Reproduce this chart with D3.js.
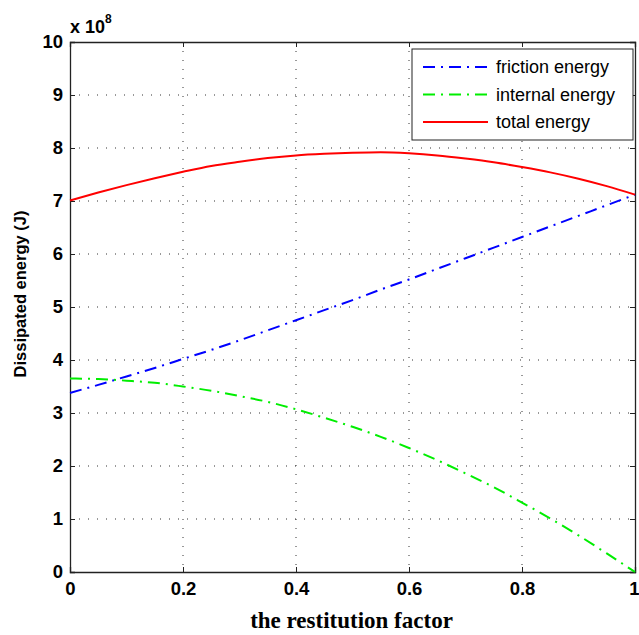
<!DOCTYPE html>
<html><head><meta charset="utf-8">
<script src="https://cdn.jsdelivr.net/npm/d3@7"></script>
<style>body{margin:0;background:#fff}svg{display:block}</style>
</head><body>
<svg id="c" width="639" height="635"></svg>
<script>
const restitution = [0,0.05,0.1,0.15,0.2,0.25,0.3,0.35,0.4,0.45,0.5,0.55,0.6,0.65,0.7,0.75,0.8,0.85,0.9,0.95,1];
const frictionEnergy = [3.38,3.53,3.69,3.85,4.02,4.19,4.37,4.56,4.75,4.94,5.13,5.33,5.52,5.72,5.92,6.12,6.32,6.52,6.72,6.92,7.12];
const internalEnergy = [3.65,3.64,3.61,3.57,3.50,3.42,3.32,3.21,3.07,2.91,2.74,2.55,2.34,2.11,1.86,1.60,1.31,1.01,0.69,0.35,0.00];
const totalEnergy = [7.01,7.16,7.30,7.43,7.55,7.66,7.74,7.81,7.86,7.89,7.91,7.92,7.90,7.86,7.80,7.73,7.64,7.54,7.42,7.28,7.12];
const xTicks = [0,0.2,0.4,0.6,0.8,1];
const yTicks = [0,1,2,3,4,5,6,7,8,9,10];
const seriesNames = ["friction energy","internal energy","total energy"];

const L=70,R=635,T=42,B=572;
const svg=d3.select("#c");
const x=d3.scaleLinear().domain([0,1]).range([L,R]);
const y=d3.scaleLinear().domain([0,10]).range([B,T]);
const SANS="Liberation Sans, Arial, sans-serif";

// grid
const g=svg.append("g");
g.selectAll(".gx").data(xTicks.slice(1,-1)).join("line")
 .attr("x1",d=>x(d)).attr("x2",d=>x(d)).attr("y1",T).attr("y2",B)
 .attr("stroke","#333").attr("stroke-width",1).attr("stroke-dasharray","1,8");
g.selectAll(".gy").data(yTicks.slice(1,-1)).join("line")
 .attr("y1",d=>y(d)).attr("y2",d=>y(d)).attr("x1",L).attr("x2",R)
 .attr("stroke","#333").attr("stroke-width",1).attr("stroke-dasharray","1,8");

// axes
const xa=svg.append("g").attr("transform",`translate(0,${B})`)
 .call(d3.axisBottom(x).tickValues(xTicks).tickSize(-5).tickPadding(10).tickFormat(d=>String(d)));
const xt=svg.append("g").attr("transform",`translate(0,${T})`)
 .call(d3.axisTop(x).tickValues(xTicks).tickSize(-5).tickFormat(""));
const ya=svg.append("g").attr("transform",`translate(${L},0)`)
 .call(d3.axisLeft(y).tickValues(yTicks).tickSize(-5).tickPadding(7));
const yr=svg.append("g").attr("transform",`translate(${R},0)`)
 .call(d3.axisRight(y).tickValues(yTicks).tickSize(-5).tickFormat(""));
[xa,xt,ya,yr].forEach(a=>{a.select(".domain").attr("stroke","#222").attr("stroke-width",1.3);
 a.selectAll(".tick line").attr("stroke","#222");
 a.selectAll("text").attr("font-family",SANS).attr("font-size",18.5).attr("font-weight","bold").attr("fill","#000");});
xa.selectAll(".tick text").filter(d=>d===1).attr("text-anchor","end").attr("dx",4);

// lines
const mk=vals=>d3.line().curve(d3.curveMonotoneX).x((d,i)=>x(restitution[i])).y(d=>y(d))(vals);
svg.append("path").attr("d",mk(frictionEnergy)).attr("fill","none").attr("stroke","#0000ff").attr("stroke-width",2).attr("stroke-dasharray","12,6,2,6");
svg.append("path").attr("d",mk(internalEnergy)).attr("fill","none").attr("stroke","#00ee00").attr("stroke-width",2).attr("stroke-dasharray","12,6,2,6");
svg.append("path").attr("d",mk(totalEnergy)).attr("fill","none").attr("stroke","#ff0000").attr("stroke-width",2);

// exponent
const ex=svg.append("text").attr("x",L).attr("y",33).attr("font-family",SANS).attr("font-size",18).attr("font-weight","bold");
ex.append("tspan").text("x 10");
ex.append("tspan").attr("dy",-10).attr("font-size",12).text("8");

// titles
svg.append("text").attr("x",(L+R)/2-1).attr("y",628).attr("text-anchor","middle")
 .attr("font-family","Liberation Serif, Times New Roman, serif").attr("font-weight","bold").attr("font-size",23).text("the restitution factor");
svg.append("text").attr("transform","translate(26,294) rotate(-90)").attr("text-anchor","middle")
 .attr("font-family",SANS).attr("font-weight","bold").attr("font-size",16.5).text("Dissipated energy (J)");

// legend
const lg=svg.append("g");
lg.append("rect").attr("x",412).attr("y",49).attr("width",221).attr("height",91).attr("fill","#fff").attr("stroke","#222").attr("stroke-width",1);
const lcol=["#0000ff","#00ee00","#ff0000"], ldash=["12,6,2,6","12,6,2,6",null];
seriesNames.forEach((n,i)=>{
 const yy=67+i*27.5;
 lg.append("line").attr("x1",423).attr("x2",488).attr("y1",yy).attr("y2",yy).attr("stroke",lcol[i]).attr("stroke-width",2).attr("stroke-dasharray",ldash[i]);
 lg.append("text").attr("x",496).attr("y",yy+6).attr("font-family",SANS).attr("font-size",18).text(n);
});
</script>
</body></html>
